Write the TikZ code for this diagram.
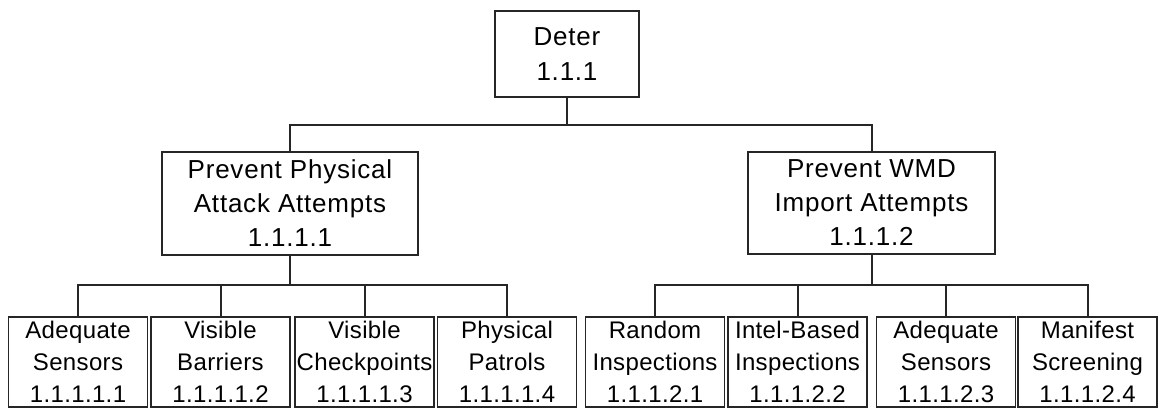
\documentclass[tikz,border=0pt]{standalone}
\usepackage{fontspec}
\setmainfont{Liberation Sans}
\begin{document}
\begin{tikzpicture}[x=1pt,y=-1pt,
  box/.style={draw=black!85, line width=1.8pt, fill=white, align=center, inner sep=0pt},
  topbox/.style={box, font=\fontsize{26}{35}\selectfont\addfontfeature{LetterSpace=3}},
  midbox/.style={box, font=\fontsize{26}{34}\selectfont\addfontfeature{LetterSpace=3}},
  leafbox/.style={box, minimum width=139pt, minimum height=90pt, font=\fontsize{24}{32}\selectfont\addfontfeature{LetterSpace=1.5}},
  conn/.style={draw=black!85, line width=2pt}]
\useasboundingbox (0,0) rectangle (1159,409);
\node[topbox, minimum width=144pt, minimum height=86pt] (root) at (567,54) {Deter\\1.1.1};
\node[midbox, minimum width=256pt, minimum height=103pt] (m1) at (290,203.5) {Prevent Physical\\Attack Attempts\\1.1.1.1};
\node[midbox, minimum width=247pt, minimum height=102pt] (m2) at (871.5,203) {Prevent WMD\\Import Attempts\\1.1.1.2};
\node[leafbox] (c1) at (78,362) {Adequate\\Sensors\\1.1.1.1.1};
\node[leafbox] (c2) at (220.5,362) {Visible\\Barriers\\1.1.1.1.2};
\node[leafbox] (c3) at (364.5,362) {Visible\\Checkpoints\\1.1.1.1.3};
\node[leafbox] (c4) at (507,362) {Physical\\Patrols\\1.1.1.1.4};
\node[leafbox] (c5) at (655,362) {Random\\Inspections\\1.1.1.2.1};
\node[leafbox] (c6) at (797.5,362) {Intel-Based\\Inspections\\1.1.1.2.2};
\node[leafbox] (c7) at (946,362) {Adequate\\Sensors\\1.1.1.2.3};
\node[leafbox] (c8) at (1087.5,362) {Manifest\\Screening\\1.1.1.2.4};
\coordinate (j0) at (567,125);
\coordinate (j1) at (290,285);
\coordinate (j2) at (871.5,285);
\draw[conn] (root.south) -- (j0);
\draw[conn] (m1.north) |- (j0) -| (m2.north);
\draw[conn] (m1.south) -- (j1);
\draw[conn] (c1.north) |- (j1) -| (c4.north);
\draw[conn] (c2.north) -- (c2.north |- j1);
\draw[conn] (c3.north) -- (c3.north |- j1);
\draw[conn] (m2.south) -- (j2);
\draw[conn] (c5.north) |- (j2) -| (c8.north);
\draw[conn] (c6.north) -- (c6.north |- j2);
\draw[conn] (c7.north) -- (c7.north |- j2);
\end{tikzpicture}
\end{document}
